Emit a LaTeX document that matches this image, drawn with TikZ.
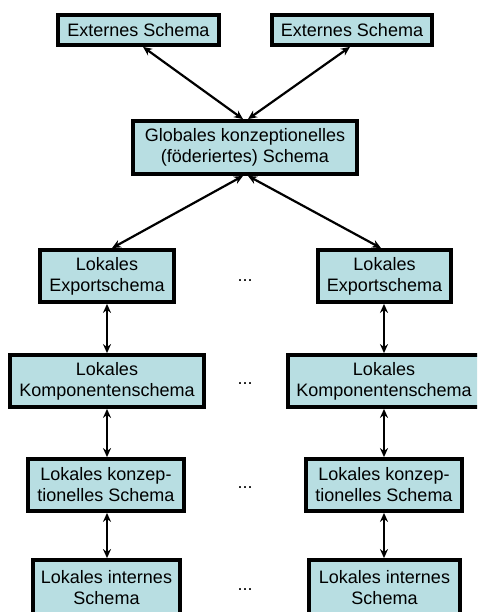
\documentclass[tikz,border=0pt]{standalone}
\usepackage{fontspec}
\setmainfont{Liberation Sans}
\usetikzlibrary{arrows.meta}
\definecolor{boxfill}{RGB}{184,222,226}
\tikzset{
  schemabox/.style={draw=black, line width=3.8pt, fill=boxfill, align=center,
    inner sep=0pt, font=\fontsize{18}{21}\selectfont},
  link/.style={line width=2.2pt, {Stealth[length=9pt,width=8pt]}-{Stealth[length=9pt,width=8pt]}},
  ellipsis/.style={font=\fontsize{18}{21}\selectfont, inner sep=0pt}
}
\begin{document}
\begin{tikzpicture}[x=1pt, y=-1pt]
\begin{scope}
\clip (0,0) rectangle (477,612);
\fill[white] (0,0) rectangle (477,612);

% external level
\node[schemabox, minimum width=161pt, minimum height=30pt] (extL) at (138.5,30) {Externes Schema};
\node[schemabox, minimum width=160pt, minimum height=30pt] (extR) at (352,30) {Externes Schema};

% federated conceptual schema
\node[schemabox, minimum width=224pt, minimum height=53pt] (glob) at (245,147.5)
  {Globales konzeptionelles\\(föderiertes) Schema};

% local export schemas
\node[schemabox, minimum width=134pt, minimum height=52pt] (expL) at (107,276) {Lokales\\Exportschema};
\node[schemabox, minimum width=133pt, minimum height=52pt] (expR) at (384.5,276) {Lokales\\Exportschema};

% local component schemas
\node[schemabox, minimum width=194pt, minimum height=52pt] (kompL) at (107,381) {Lokales\\Komponentenschema};
\node[schemabox, minimum width=192pt, minimum height=52pt] (kompR) at (384,381) {Lokales\\Komponentenschema};

% local conceptual schemas
\node[schemabox, minimum width=156pt, minimum height=52pt] (konzL) at (106,485) {Lokales konzep-\\tionelles Schema};
\node[schemabox, minimum width=156pt, minimum height=52pt] (konzR) at (384,485) {Lokales konzep-\\tionelles Schema};

% local internal schemas
\node[schemabox, minimum width=147pt, minimum height=56pt] (intL) at (106.5,588) {Lokales internes\\Schema};
\node[schemabox, minimum width=151pt, minimum height=56pt] (intR) at (384.5,588) {Lokales internes\\Schema};

% ellipses between the two columns
\node[ellipsis] (dotsA) at (245,281) {...};
\node[ellipsis] (dotsB) at (245,384) {...};
\node[ellipsis] (dotsC) at (245,488) {...};
\node[ellipsis] (dotsD) at (245,590) {...};

% connectors
\draw[link] ([xshift=4.5pt]extL.south) -- ([xshift=-2pt]glob.north);
\draw[link] ([xshift=-2pt]extR.south) -- ([xshift=3pt]glob.north);
\draw[link] ([xshift=-2pt]glob.south) -- ([xshift=5pt]expL.north);
\draw[link] ([xshift=3pt]glob.south) -- ([xshift=-3.5pt]expR.north);

\draw[link] (expL.south) -- (kompL.north);
\draw[link] (kompL.south) -- (konzL.north -| kompL.south);
\draw[link] (konzL.south -| kompL.south) -- (intL.north -| kompL.south);

\draw[link] ([xshift=-0.5pt]expR.south) -- (kompR.north);
\draw[link] (kompR.south) -- (konzR.north);
\draw[link] (konzR.south) -- (intR.north -| konzR.south);
\end{scope}
\end{tikzpicture}
\end{document}
